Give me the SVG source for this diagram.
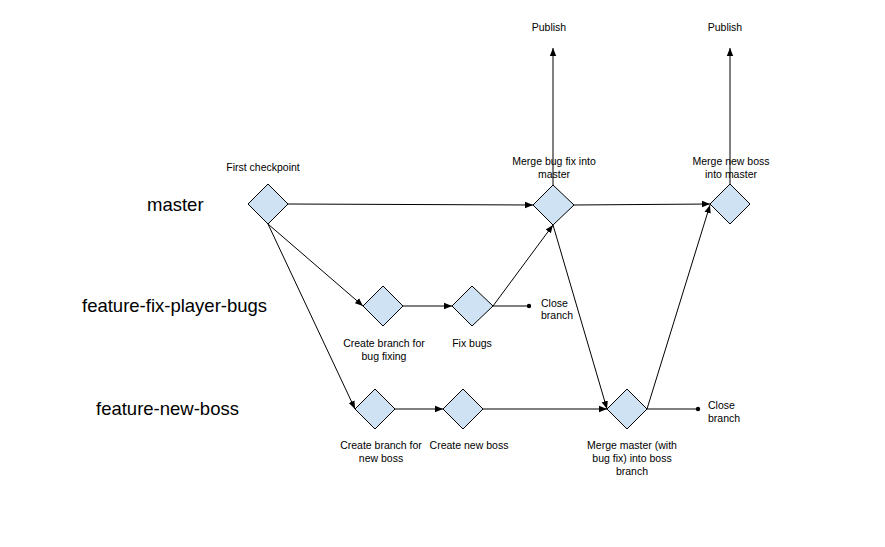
<svg xmlns="http://www.w3.org/2000/svg" width="885" height="547" viewBox="0 0 885 547">
<style>
.d{fill:#cfe2f3;stroke:#000;stroke-width:1}
.c{stroke:#000;stroke-width:1;fill:none}
.t{font-family:"Liberation Sans",Arial,sans-serif;font-size:10.5px;fill:#000}
.m{text-anchor:middle}
.lane{font-family:"Liberation Sans",Arial,sans-serif;font-size:18.5px;fill:#000}
</style>
<defs>
<marker id="a" viewBox="0 0 10 10" refX="10" refY="5" markerWidth="8" markerHeight="8" markerUnits="userSpaceOnUse" orient="auto">
<path d="M0,1 L10,5 L0,9 z" fill="#000"/>
</marker>
</defs>
<rect width="885" height="547" fill="#fff"/>
<g id="lanes">
<text class="lane" x="147" y="211">master</text>
<text class="lane" x="82" y="312">feature-fix-player-bugs</text>
<text class="lane" x="96" y="415">feature-new-boss</text>
</g>
<g id="connectors">
<line class="c" x1="288" y1="204" x2="533" y2="205" marker-end="url(#a)"/>
<line class="c" x1="268" y1="224" x2="363" y2="306" marker-end="url(#a)"/>
<line class="c" x1="268" y1="224" x2="355" y2="409" marker-end="url(#a)"/>
<line class="c" x1="403" y1="306" x2="452" y2="306" marker-end="url(#a)"/>
<line class="c" x1="493" y1="306" x2="553" y2="225" marker-end="url(#a)"/>
<line class="c" x1="493" y1="306" x2="529" y2="306"/>
<circle cx="529" cy="306" r="2.2" fill="#000"/>
<line class="c" x1="553" y1="225" x2="607" y2="409" marker-end="url(#a)"/>
<line class="c" x1="395" y1="409" x2="443" y2="409" marker-end="url(#a)"/>
<line class="c" x1="483" y1="409" x2="607" y2="409" marker-end="url(#a)"/>
<line class="c" x1="647" y1="409" x2="710" y2="205" marker-end="url(#a)"/>
<line class="c" x1="647" y1="409" x2="698" y2="409"/>
<circle cx="698" cy="409" r="2.2" fill="#000"/>
<line class="c" x1="574" y1="205" x2="710" y2="204" marker-end="url(#a)"/>
<line class="c" x1="553" y1="185" x2="553" y2="48" marker-end="url(#a)"/>
<line class="c" x1="730" y1="184" x2="730" y2="48" marker-end="url(#a)"/>
</g>
<g id="first-checkpoint">
<path class="d" d="M268,184 L288,204 L268,224 L248,204 z"/>
<text class="t m" x="263" y="171">First checkpoint</text>
</g>
<g id="merge-bug-fix">
<path class="d" d="M553,185 L574,205 L553,225 L533,205 z"/>
<text class="t m" x="554" y="165">Merge bug fix into</text>
<text class="t m" x="554" y="178">master</text>
</g>
<g id="merge-new-boss">
<path class="d" d="M730,184 L750,204 L730,224 L710,204 z"/>
<text class="t m" x="731" y="165">Merge new boss</text>
<text class="t m" x="731" y="178">into master</text>
</g>
<g id="publish-1"><text class="t m" x="549" y="31">Publish</text></g>
<g id="publish-2"><text class="t m" x="725" y="31">Publish</text></g>
<g id="create-branch-bug">
<path class="d" d="M383,286 L403,306 L383,326 L363,306 z"/>
<text class="t m" x="384" y="347">Create branch for</text>
<text class="t m" x="384" y="360">bug fixing</text>
</g>
<g id="fix-bugs">
<path class="d" d="M472,286 L493,306 L472,326 L452,306 z"/>
<text class="t m" x="472" y="347">Fix bugs</text>
</g>
<g id="close-branch-1">
<text class="t" x="541" y="307">Close</text>
<text class="t" x="541" y="319">branch</text>
</g>
<g id="create-branch-boss">
<path class="d" d="M375,389 L395,409 L375,429 L355,409 z"/>
<text class="t m" x="381" y="449">Create branch for</text>
<text class="t m" x="381" y="462">new boss</text>
</g>
<g id="create-new-boss">
<path class="d" d="M463,389 L483,409 L463,429 L443,409 z"/>
<text class="t m" x="469" y="449">Create new boss</text>
</g>
<g id="merge-master">
<path class="d" d="M627,389 L647,409 L627,429 L607,409 z"/>
<text class="t m" x="632" y="449">Merge master (with</text>
<text class="t m" x="632" y="462">bug fix) into boss</text>
<text class="t m" x="632" y="475">branch</text>
</g>
<g id="close-branch-2">
<text class="t" x="708" y="409">Close</text>
<text class="t" x="708" y="422">branch</text>
</g>
</svg>
